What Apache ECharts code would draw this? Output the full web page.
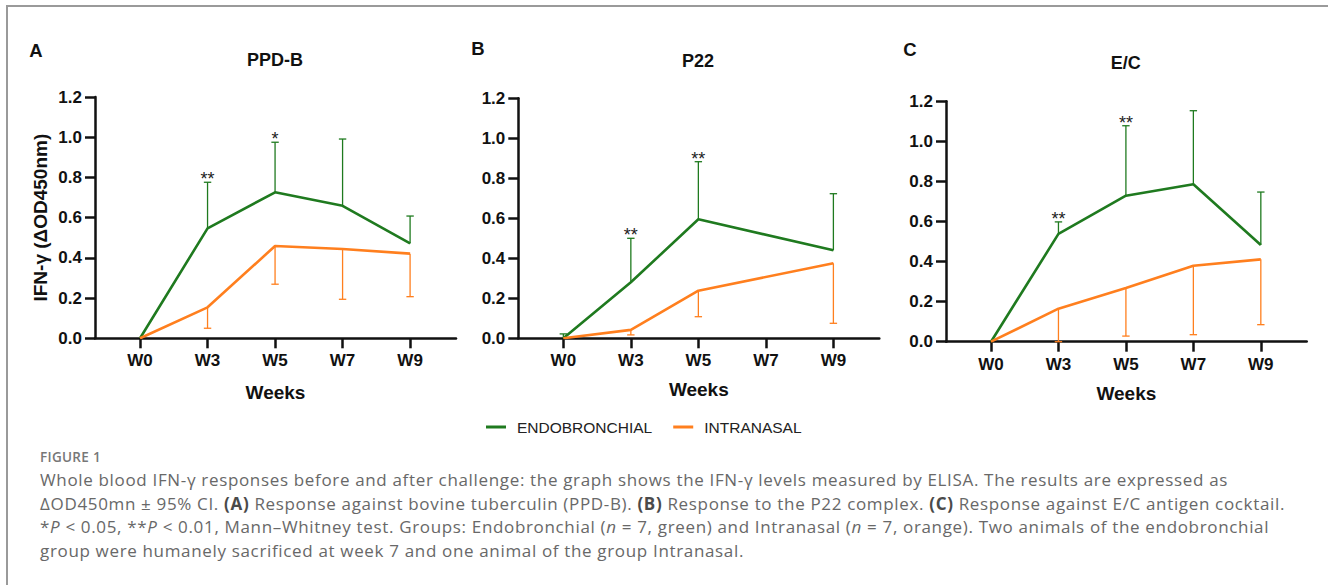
<!DOCTYPE html>
<html>
<head>
<meta charset="utf-8">
<script src="https://cdn.jsdelivr.net/npm/echarts@6/dist/echarts.min.js"></script>
<style>
  html, body { margin: 0; padding: 0; background: #fff; }
  body { width: 1328px; height: 585px; position: relative; overflow: hidden; }
  #frame { position: absolute; left: 6px; top: 5px; right: 0; bottom: 0; border-left: 2px solid #9a9a9a; border-top: 2px solid #9a9a9a; }
  #chart { position: absolute; left: 0; top: 0; width: 1328px; height: 585px; }
  #cap { position: absolute; left: 40px; top: 449px; font-family: "Open Sans", "Lato", sans-serif; color: #686868; }
  #cap .fig { font-size: 13.5px; font-weight: 600; line-height: 16px; color: #777; letter-spacing: 0.3px; }
  #cap .ln { font-size: 17px; line-height: 23.7px; white-space: nowrap; letter-spacing: 0.66px; }
  #cap .first { margin-top: 3px; }
  #cap b { font-weight: 700; color: #4a4a4a; }
</style>
</head>
<body>
<div id="frame"></div>
<div id="chart"></div>
<div id="cap">
  <div class="fig">FIGURE 1</div>
  <div class="ln first">Whole blood IFN-γ responses before and after challenge: the graph shows the IFN-γ levels measured by ELISA. The results are expressed as</div>
  <div class="ln">ΔOD450mn ± 95% CI. <b>(A)</b> Response against bovine tuberculin (PPD-B). <b>(B)</b> Response to the P22 complex. <b>(C)</b> Response against E/C antigen cocktail.</div>
  <div class="ln">*<i>P</i> &lt; 0.05, **<i>P</i> &lt; 0.01, Mann–Whitney test. Groups: Endobronchial (<i>n</i> = 7, green) and Intranasal (<i>n</i> = 7, orange). Two animals of the endobronchial</div>
  <div class="ln">group were humanely sacrificed at week 7 and one animal of the group Intranasal.</div>
</div>
<script>
// ---------- data ----------
const weeks = ['W0', 'W3', 'W5', 'W7', 'W9'];
const panelLetters = ['A', 'B', 'C'];
const panelTitles = ['PPD-B', 'P22', 'E/C'];
const seriesNames = ['ENDOBRONCHIAL', 'INTRANASAL'];
const yTickValues = [0, 0.2, 0.4, 0.6, 0.8, 1.0, 1.2];

// Panel A: PPD-B
const endoA = [0, 0.547, 0.726, 0.659, 0.472];
const endoA_upper = [null, 0.776, 0.975, 0.991, 0.608];
const intraA = [0, 0.154, 0.459, 0.444, 0.421];
const intraA_lower = [null, 0.050, 0.269, 0.194, 0.207];
const starsA = ['', '**', '*', '', ''];

// Panel B: P22
const endoB = [0, 0.280, 0.595, null, 0.440];
const endoB_upper = [0.022, 0.500, 0.883, null, 0.723];
const intraB = [0, 0.042, 0.238, null, 0.375];
const intraB_lower = [null, 0.017, 0.108, null, 0.075];
const starsB = ['', '**', '**', '', ''];

// Panel C: E/C
const endoC = [0, 0.538, 0.729, 0.786, 0.483];
const endoC_upper = [null, 0.598, 1.078, 1.153, 0.747];
const intraC = [0, 0.165, 0.268, 0.379, 0.411];
const intraC_lower = [null, 0.000, 0.028, 0.035, 0.085];
const starsC = ['', '**', '**', '', ''];

// ---------- styling ----------
const GREEN = '#1f7a1f';
const ORANGE = '#ff7f1e';
const BOLD_FONT = '"Liberation Sans", Arial, Helvetica, sans-serif';

const panels = [
  { endo: endoA, endoUp: endoA_upper, intra: intraA, intraLo: intraA_lower, stars: starsA },
  { endo: endoB, endoUp: endoB_upper, intra: intraB, intraLo: intraB_lower, stars: starsB },
  { endo: endoC, endoUp: endoC_upper, intra: intraC, intraLo: intraC_lower, stars: starsC }
];

const grids = [
  { left: 95, right: 872, top: 97, bottom: 246.7 },
  { left: 518.3, right: 448.7, top: 98.3, bottom: 246.7 },
  { left: 946, right: 21.3, top: 101.3, bottom: 243.3 }
];
const weeksNameGap = [45, 42, 42];

const titleLayout = [
  { letter: [36, 50], title: [275, 60] },
  { letter: [478, 48], title: [698, 60.7] },
  { letter: [910, 49], title: [1125.7, 63] }
];

function errRender(params, api) {
  const x = api.value(0), m = api.value(1), b = api.value(2);
  const p1 = api.coord([x, m]);
  const p2 = api.coord([x, b]);
  const hw = 3.7;
  const color = api.visual('color');
  return {
    type: 'group',
    children: [
      { type: 'line', shape: { x1: p1[0], y1: p1[1], x2: p2[0], y2: p2[1] }, style: { stroke: color, lineWidth: 1.3 } },
      { type: 'line', shape: { x1: p2[0] - hw, y1: p2[1], x2: p2[0] + hw, y2: p2[1] }, style: { stroke: color, lineWidth: 1.3 } }
    ]
  };
}

const xAxes = [], yAxes = [], series = [], titles = [];
panels.forEach((p, k) => {
  xAxes.push({
    type: 'value', gridIndex: k, min: -0.667, max: 4.68,
    name: 'Weeks', nameLocation: 'middle', nameGap: weeksNameGap[k],
    nameTextStyle: { fontFamily: BOLD_FONT, fontWeight: 'bold', fontSize: 19, color: '#111' },
    axisLine: { show: true, onZero: false, lineStyle: { color: '#111', width: 2.5 } },
    axisTick: { show: true, length: 10, lineStyle: { color: '#111', width: 2.5 }, customValues: [0, 1, 2, 3, 4] },
    axisLabel: {
      customValues: [0, 1, 2, 3, 4], margin: 14,
      formatter: v => weeks[Math.round(v)],
      fontFamily: BOLD_FONT, fontWeight: 'bold', fontSize: 17, color: '#111'
    },
    splitLine: { show: false }
  });
  yAxes.push({
    type: 'value', gridIndex: k, min: 0, max: 1.2, interval: 0.2,
    name: k === 0 ? 'IFN-γ (ΔOD450nm)' : '',
    nameLocation: 'middle', nameGap: 45, nameRotate: 90,
    nameTextStyle: { fontFamily: BOLD_FONT, fontWeight: 'bold', fontSize: 19, color: '#111' },
    axisLine: { show: true, onZero: false, lineStyle: { color: '#111', width: 2.5 } },
    axisTick: { show: true, length: 10, lineStyle: { color: '#111', width: 2.5 } },
    axisLabel: {
      margin: 13, formatter: v => v.toFixed(1),
      fontFamily: BOLD_FONT, fontWeight: 'bold', fontSize: 17, color: '#111'
    },
    splitLine: { show: false }
  });

  const endoErr = [], intraErr = [], starData = [], starLabels = [];
  for (let i = 0; i < weeks.length; i++) {
    if (p.endoUp[i] != null) endoErr.push([i, p.endo[i] == null ? 0 : p.endo[i], p.endoUp[i]]);
    if (p.intraLo[i] != null) intraErr.push([i, p.intra[i], p.intraLo[i]]);
    if (p.stars[i]) { starData.push([i, p.endoUp[i]]); starLabels.push(p.stars[i]); }
  }

  series.push({
    type: 'custom', name: 'err-endo-' + k, xAxisIndex: k, yAxisIndex: k,
    itemStyle: { color: GREEN }, renderItem: errRender, data: endoErr, z: 2, silent: true
  });
  series.push({
    type: 'custom', name: 'err-intra-' + k, xAxisIndex: k, yAxisIndex: k,
    itemStyle: { color: ORANGE }, renderItem: errRender, data: intraErr, z: 2, silent: true
  });
  series.push({
    type: 'line', name: seriesNames[0], xAxisIndex: k, yAxisIndex: k,
    data: p.endo.map((v, i) => [i, v]), connectNulls: true, symbol: 'none',
    lineStyle: { color: GREEN, width: 2.6 }, itemStyle: { color: GREEN }, z: 3, animation: false
  });
  series.push({
    type: 'line', name: seriesNames[1], xAxisIndex: k, yAxisIndex: k,
    data: p.intra.map((v, i) => [i, v]), connectNulls: true, symbol: 'none',
    lineStyle: { color: ORANGE, width: 2.6 }, itemStyle: { color: ORANGE }, z: 4, animation: false
  });
  series.push({
    type: 'custom', name: 'stars-' + k, xAxisIndex: k, yAxisIndex: k, silent: true, z: 5,
    data: starData,
    renderItem: (params, api) => {
      const c = api.coord([api.value(0), api.value(1)]);
      return {
        type: 'text', x: c[0], y: c[1] - 3,
        style: {
          text: starLabels[params.dataIndex], align: 'center', verticalAlign: 'middle',
          fontFamily: BOLD_FONT, fontSize: 18, fill: '#222'
        }
      };
    }
  });

  titles.push({
    text: panelLetters[k], left: titleLayout[k].letter[0], top: titleLayout[k].letter[1] - 11,
    textAlign: 'center', padding: 0,
    textStyle: { fontFamily: BOLD_FONT, fontWeight: 'bold', fontSize: 18.5, color: '#111', lineHeight: 22 }
  });
  titles.push({
    text: panelTitles[k], left: titleLayout[k].title[0], top: titleLayout[k].title[1] - 11,
    textAlign: 'center', padding: 0,
    textStyle: { fontFamily: BOLD_FONT, fontWeight: 'bold', fontSize: 18, color: '#111', lineHeight: 22 }
  });
});

const chart = echarts.init(document.getElementById('chart'), null, { renderer: 'svg' });
chart.setOption({
  animation: false,
  backgroundColor: 'transparent',
  title: titles,
  grid: grids,
  xAxis: xAxes,
  yAxis: yAxes,
  legend: {
    data: [
      { name: seriesNames[0], icon: 'rect', itemStyle: { color: GREEN } },
      { name: seriesNames[1], icon: 'rect', itemStyle: { color: ORANGE } }
    ],
    left: 481, top: 414, itemWidth: 20, itemHeight: 3, itemGap: 21,
    selectedMode: false,
    textStyle: { fontFamily: BOLD_FONT, fontSize: 15.5, color: '#222', padding: [0, 0, 0, 6] }
  },
  series: series
});
</script>
</body>
</html>
